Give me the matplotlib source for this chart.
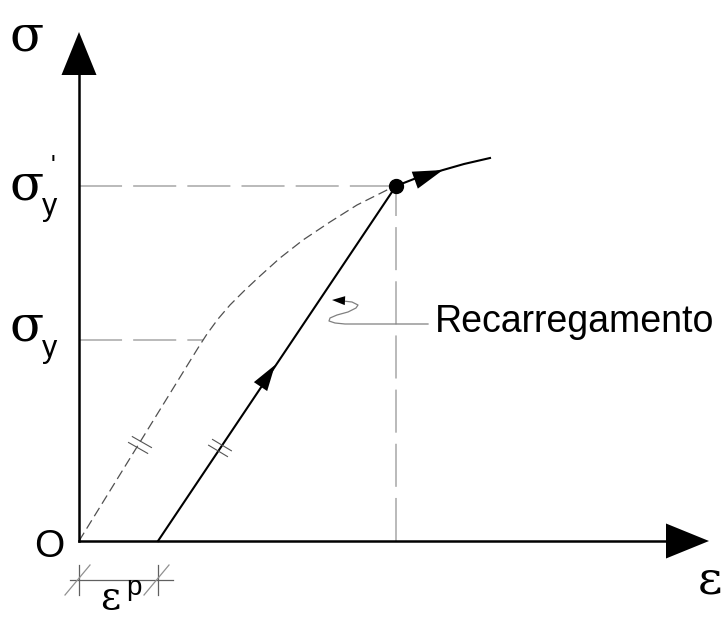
import numpy as np
import matplotlib
matplotlib.use("Agg")
from matplotlib import pyplot as plt

plt.rcParams['lines.scale_dashes'] = False

# schematic values (pixel-like units, origin at O)
sigma_y = 201          # first yield stress
sigma_y_prime = 355    # new yield stress after reloading
eps_peak = 317         # strain at the reload point
eps_p = 79             # plastic strain
eps_y = 124            # where the first-yield line meets the loading curve

# original loading curve (dashed)
load_x = [0, 119, 128, 139, 151, 165, 181, 201, 224, 251, 278, 308, 317]
load_y = [0, 193, 207, 222, 236, 250, 265, 283, 301, 319, 336, 351, 355]
# continued hardening after reloading (solid)
hard_x = [317, 340, 364, 385, 411]
hard_y = [355, 364, 371, 377, 383]
# reloading line from eps_p to the reload point
reload_x = [eps_p, eps_peak]
reload_y = [0, sigma_y_prime]
# squiggly leader to the label
lead_x = [264, 273, 279, 277, 269, 258, 251, 250, 256, 266, 278, 349]
lead_y = [240, 239, 236, 233, 229, 226, 223, 220, 218, 217, 217, 217]


def arrowhead(ax, tip, direction, length, half, color='black'):
    d = np.array(direction, float)
    d /= np.hypot(*d)
    n = np.array([-d[1], d[0]])
    tip = np.array(tip, float)
    base = tip - d * length
    pts = np.array([tip, base + n * half, base - n * half])
    ax.fill(pts[:, 0], pts[:, 1], color=color, lw=0, zorder=5)


def double_tick(ax, center, line_dir, tick_dir, size=11, gap=3.5, color='#555555'):
    ld = np.array(line_dir, float)
    ld /= np.hypot(*ld)
    td = np.array(tick_dir, float)
    td /= np.hypot(*td)
    c = np.array(center, float)
    for s in (-1, 1):
        m = c + s * gap * ld
        ax.plot([m[0] - td[0] * size, m[0] + td[0] * size],
                [m[1] - td[1] * size, m[1] + td[1] * size],
                color=color, lw=0.8, zorder=4)


fig = plt.figure(figsize=(7.25, 6.21), dpi=100)
ax = fig.add_axes([0, 0, 1, 1])
ax.set_xlim(-79, 646)
ax.set_ylim(-80, 541)
ax.axis('off')

# axes with arrows
ax.plot([0, 0], [0, 470], color='black', lw=1.8, zorder=3)
arrowhead(ax, (0, 509), (0, 1), 43, 17.5)
ax.plot([0, 590], [0, 0], color='black', lw=1.8, zorder=3)
arrowhead(ax, (630, 0), (1, 0), 43, 17.5)

# gray reference lines
ref = dict(color='#b4b4b4', lw=1.3, dashes=(31, 8), zorder=1)
ax.plot([0, eps_peak], [sigma_y_prime, sigma_y_prime], **ref)
ax.plot([eps_peak, eps_peak], [0, sigma_y_prime], **ref)
ax.plot([0, eps_y], [sigma_y, sigma_y], **ref)

# original loading curve
ax.plot(load_x, load_y, color='#505050', lw=0.9, dashes=(7, 3.5), zorder=2)
# reloading and hardening
ax.plot(reload_x, reload_y, color='black', lw=1.5, zorder=3)
ax.plot(hard_x, hard_y, color='black', lw=1.5, zorder=3)
ax.plot(eps_peak, sigma_y_prime, 'o', color='black', ms=10, zorder=6)

# arrows on the paths
slope = (reload_x[1] - reload_x[0], reload_y[1] - reload_y[0])
arrowhead(ax, (196, 176), slope, 26, 8)
arrowhead(ax, (364, 371), (1, 0.36), 30, 9)

# parallel marks
double_tick(ax, (61, 96), (1, 1.55), (1, -0.57))
double_tick(ax, (141, 93), slope, (1, -0.6))

# leader to label
ax.plot(lead_x, lead_y, color='#808080', lw=0.9, zorder=2)
arrowhead(ax, (253, 241), (-1, 0.05), 13, 4.5)
ax.text(356, 219, 'Recarregamento', family='Liberation Sans', fontsize=27,
        va='center', ha='left')

# eps_p dimension
dim = dict(color='#606060', lw=0.9)
ax.plot([-9, 94], [-39, -39], **dim)
for x0 in (0, eps_p):
    ax.plot([x0, x0], [-24, -54], **dim)
    ax.plot([x0 - 14, x0 + 11], [-54, -24], color='#909090', lw=0.9)

# labels
serif = dict(family='DejaVu Serif', va='center', ha='center')
sans = dict(family='Liberation Sans', va='center', ha='center')
ax.text(-52, 504, 'σ', fontsize=36, **serif)
ax.text(-52, 355, 'σ', fontsize=36, **serif)
ax.text(-29, 334, 'y', fontsize=22, **sans)
ax.text(-26, 375, '\'', fontsize=18, **sans)
ax.text(-52, 214, 'σ', fontsize=36, **serif)
ax.text(-29, 192, 'y', fontsize=22, **sans)
ax.text(-30, -6, 'O', fontsize=28, **sans)
ax.text(631, -40, 'ε', fontsize=34, **serif)
ax.text(31, -58, 'ε', fontsize=28, **serif)
ax.text(55, -47, 'p', fontsize=20, **sans)

fig.savefig('out.png', dpi=100)
